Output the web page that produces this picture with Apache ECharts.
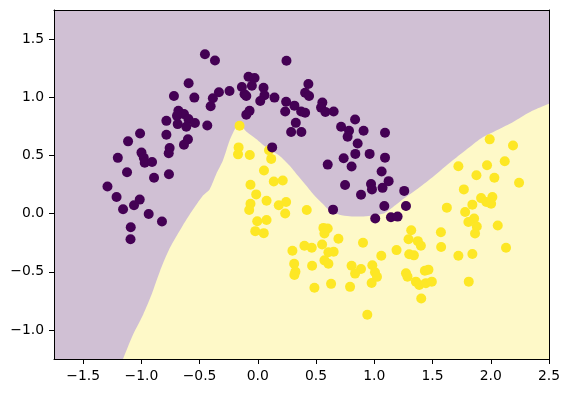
<!DOCTYPE html>
<html>
<head>
<meta charset="utf-8">
<script src="https://cdn.jsdelivr.net/npm/echarts@6/dist/echarts.min.js"></script>
<style>
html,body{margin:0;padding:0;background:#fff;}
#chart{width:570px;height:393px;}
</style>
</head>
<body>
<div id="chart"></div>
<script>
// Axis ranges and tick labels
const xRange = [-1.75, 2.5];
const yRange = [-1.25, 1.75];
const xTickValues = [-1.5, -1.0, -0.5, 0.0, 0.5, 1.0, 1.5, 2.0, 2.5];
const yTickValues = [-1.0, -0.5, 0.0, 0.5, 1.0, 1.5];

// Class 0 (dark purple) points [x, y]
const class0Points = [
  [-0.454,1.369],[-0.368,1.316],[-0.594,1.120],[-0.720,1.011],[-0.545,0.997],[-0.334,1.043],
  [-0.243,1.054],[-0.386,0.991],[-0.405,0.923],[-0.682,0.883],[-0.634,0.855],[-0.694,0.840],
  [-0.596,0.812],[-0.540,0.778],[-0.785,0.797],[-0.688,0.769],[-0.614,0.746],[-0.434,0.757],
  [-1.011,0.689],[-0.785,0.678],[-1.114,0.621],[-0.600,0.638],[-0.634,0.592],[-0.757,0.564],
  [-0.765,0.518],[-0.999,0.524],[-0.979,0.479],[-0.971,0.438],[-0.908,0.444],[-1.202,0.479],
  [-1.123,0.356],[-0.891,0.308],[-0.763,0.338],[-1.291,0.233],[-1.213,0.142],[-1.014,0.120],
  [-1.063,0.071],[-1.157,0.037],[-0.937,-0.003],[-0.823,-0.068],[-1.091,-0.117],[-1.093,-0.220],
  [0.246,1.313],[-0.080,1.176],[-0.028,1.165],[-0.137,1.088],[-0.051,1.099],[0.049,1.082],
  [-0.114,1.026],[-0.099,1.011],[0.057,1.017],[0.021,0.968],[0.143,0.997],[0.434,1.114],
  [0.406,1.039],[0.440,1.011],[0.243,0.962],[0.314,0.928],[0.235,0.877],[0.372,0.877],
  [0.406,0.866],[0.554,0.954],[0.543,0.911],[0.580,0.874],[0.651,0.877],[-0.071,0.883],
  [-0.099,0.849],[0.326,0.780],[0.286,0.701],[0.374,0.701],[0.835,0.809],[0.715,0.746],
  [0.783,0.712],[0.771,0.661],[0.908,0.712],[0.857,0.603],[0.837,0.513],[0.960,0.513],
  [0.737,0.475],[0.805,0.404],[0.600,0.421],[0.123,0.569],[1.092,0.695],[1.092,0.481],
  [1.063,0.362],[0.749,0.246],[0.972,0.255],[1.123,0.279],[1.071,0.221],[1.257,0.195],
  [0.886,0.162],[0.646,0.034],[1.086,0.065],[1.272,0.065],[1.143,-0.032],[1.200,-0.026],
  [1.008,-0.043],[0.980,0.208]
];

// Class 1 (yellow) points [x, y]
const class1Points = [
  [-0.157,0.755],[-0.165,0.569],[-0.170,0.509],[-0.069,0.504],[0.096,0.544],[0.115,0.470],
  [0.053,0.370],[0.137,0.276],[0.214,0.285],[-0.063,0.248],[-0.014,0.165],[0.075,0.111],
  [-0.063,0.085],[-0.074,0.031],[0.180,0.071],[0.243,0.099],[0.235,0.000],[0.420,0.031],
  [-0.005,-0.066],[0.075,-0.055],[-0.022,-0.151],[0.051,-0.168],[0.563,-0.123],[0.600,-0.128],
  [0.572,-0.171],[0.692,-0.217],[0.903,-0.251],[0.552,-0.265],[0.400,-0.277],[0.463,-0.294],
  [0.297,-0.320],[0.606,-0.333],[0.651,-0.328],[1.060,-0.362],[0.572,-0.402],[0.606,-0.431],
  [0.466,-0.448],[0.312,-0.431],[0.805,-0.448],[0.886,-0.476],[0.835,-0.516],[0.983,-0.444],
  [1.006,-0.504],[1.023,-0.544],[0.977,-0.596],[0.323,-0.499],[0.314,-0.527],[0.629,-0.604],
  [0.486,-0.638],[0.792,-0.630],[0.940,-0.869],
  [1.917,0.133],[2.014,0.142],[1.962,0.099],[2.003,0.085],[1.842,0.077],[1.623,0.051],
  [1.780,0.014],[1.857,-0.043],[1.808,-0.072],[1.880,-0.111],[1.865,-0.171],[2.060,-0.103],
  [1.317,-0.143],[1.572,-0.160],[1.294,-0.220],[1.374,-0.237],[1.400,-0.277],[1.574,-0.288],
  [2.131,-0.294],[1.191,-0.314],[1.300,-0.350],[1.340,-0.359],[1.722,-0.362],[1.842,-0.348],
  [1.434,-0.491],[1.465,-0.482],[1.272,-0.513],[1.285,-0.542],[1.357,-0.585],[1.386,-0.613],
  [1.443,-0.598],[1.494,-0.585],[1.811,-0.585],[1.403,-0.730],
  [1.991,0.638],[2.191,0.586],[2.120,0.450],[1.968,0.415],[1.722,0.407],[1.877,0.330],
  [2.031,0.308],[2.243,0.265],[1.769,0.208]
];

// Decision boundary (class 1 region lies below it)
const boundaryX = [-1.157,-1.071,-0.985,-0.913,-0.842,-0.757,-0.643,-0.571,-0.471,-0.414,-0.356,-0.300,-0.243,-0.200,-0.174,-0.140,-0.100,-0.014,0.072,0.186,0.272,0.343,0.415,0.486,0.557,0.614,0.700,0.786,0.886,0.972,1.086,1.180,1.257,1.386,1.500,1.671,1.814,1.928,2.071,2.185,2.356,2.5];
const boundaryY = [-1.25,-1.040,-0.869,-0.698,-0.499,-0.299,-0.100,0.014,0.156,0.208,0.342,0.456,0.626,0.721,0.755,0.750,0.705,0.641,0.569,0.498,0.413,0.327,0.242,0.156,0.085,0.028,-0.010,-0.022,-0.025,-0.018,0.003,0.071,0.132,0.225,0.313,0.456,0.569,0.655,0.726,0.783,0.883,0.945];

const fmt = v => (Math.abs(v) < 1e-9 ? '0.0' : v.toFixed(1)).replace('-', '\u2212');
const axisFont = {fontFamily: 'DejaVu Sans', fontSize: 13.9, color: '#000'};

const chart = echarts.init(document.getElementById('chart'), null, {renderer: 'canvas'});
chart.setOption({
  animation: false,
  grid: {left: 54, top: 10, width: 495, height: 349, show: true, backgroundColor: '#d0c0d4', borderWidth: 0},
  xAxis: [
    {type: 'value', min: xRange[0], max: xRange[1], z: 10,
     axisLine: {show: true, onZero: false, lineStyle: {color: '#000', width: 1}},
     axisTick: {show: true, inside: false, length: 5, customValues: xTickValues, lineStyle: {color: '#000'}},
     axisLabel: Object.assign({show: true, margin: 10, customValues: xTickValues, formatter: fmt}, axisFont),
     splitLine: {show: false}},
    {type: 'value', position: 'top', min: xRange[0], max: xRange[1], z: 10,
     axisLine: {show: true, onZero: false, lineStyle: {color: '#000', width: 1}},
     axisTick: {show: false}, axisLabel: {show: false}, splitLine: {show: false}}
  ],
  yAxis: [
    {type: 'value', min: yRange[0], max: yRange[1], z: 10,
     axisLine: {show: true, onZero: false, lineStyle: {color: '#000', width: 1}},
     axisTick: {show: true, inside: false, length: 5, customValues: yTickValues, lineStyle: {color: '#000'}},
     axisLabel: Object.assign({show: true, margin: 10, customValues: yTickValues, formatter: fmt}, axisFont),
     splitLine: {show: false}},
    {type: 'value', position: 'right', min: yRange[0], max: yRange[1], z: 10,
     axisLine: {show: true, onZero: false, lineStyle: {color: '#000', width: 1}},
     axisTick: {show: false}, axisLabel: {show: false}, splitLine: {show: false}}
  ],
  series: [
    {type: 'line', xAxisIndex: 0, yAxisIndex: 0,
     data: boundaryX.map((x, i) => [x, boundaryY[i]]),
     showSymbol: false, smooth: 0.25, lineStyle: {width: 0, color: '#fef9c8'},
     areaStyle: {color: '#fef9c8', opacity: 1, origin: 'start'}, z: 1, silent: true},
    {type: 'scatter', xAxisIndex: 0, yAxisIndex: 0, data: class1Points, symbolSize: 10,
     itemStyle: {color: '#fde725', opacity: 1}, z: 3},
    {type: 'scatter', xAxisIndex: 0, yAxisIndex: 0, data: class0Points, symbolSize: 10,
     itemStyle: {color: '#440154', opacity: 1}, z: 4}
  ]
});
</script>
</body>
</html>
